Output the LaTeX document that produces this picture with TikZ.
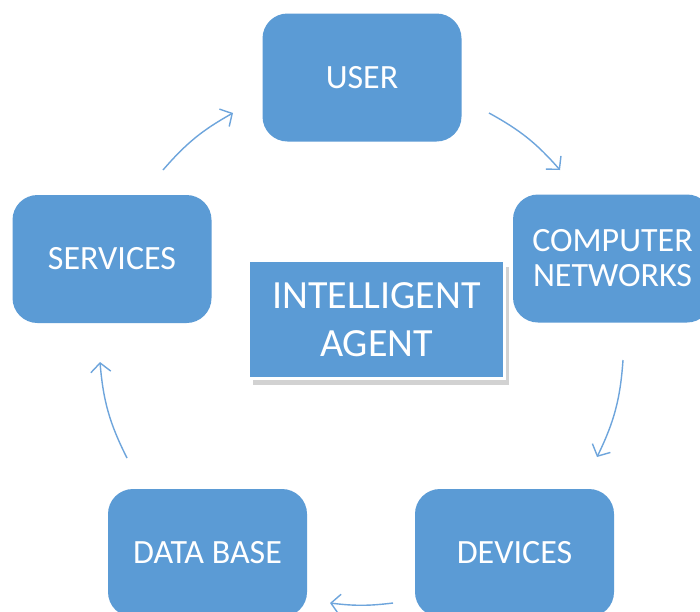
\documentclass[tikz,border=0pt]{standalone}
\usepackage{fontspec}
\setmainfont{Carlito}
\usetikzlibrary{arrows.meta, shadows}

\definecolor{boxblue}{RGB}{91,155,213}
\definecolor{lineblue}{RGB}{110,165,220}

\tikzset{
	stage/.style={rounded corners=25pt, fill=boxblue, text=white, align=center,
		minimum width=199pt, minimum height=128pt, font=\fontsize{34}{35}\selectfont},
	agent/.style={fill=boxblue, draw=white, line width=3pt, text=white, align=center,
		minimum width=256pt, minimum height=118pt, font=\fontsize{40}{48}\selectfont,
		drop shadow={shadow xshift=4pt, shadow yshift=-6pt, fill=black!35}},
	cycle/.style={draw=lineblue, line width=1.4pt, -{Straight Barb[length=9pt,width=20pt]}}
}

\begin{document}
\begin{tikzpicture}[x=1pt, y=-1pt]
		\useasboundingbox (0,0) rectangle (700,611);
		\clip (0,0) rectangle (700,611);
		\fill[white] (0,0) rectangle (700,611);
		
		\node[stage] (user) at (362,77.5) {USER};
		\node[stage] (network) at (612.5,258.5) {COMPUTER\\NETWORKS};
		\node[stage] (devices) at (514.5,553) {DEVICES};
		\node[stage] (database) at (207.5,553) {DATA BASE};
		\node[stage] (services) at (112,259) {SERVICES};
		
		\node[agent] (agent) at (376.5,319.5) {INTELLIGENT\\AGENT};
		
		% ends of the arrows round the ring
		\coordinate (s1) at (163,170);
		\coordinate (e1) at (233,113);
		\coordinate (s2) at (489,113);
		\coordinate (e2) at (560,170);
		\coordinate (s3) at (623,360);
		\coordinate (e3) at (597,457);
		\coordinate (s4) at (393,603);
		\coordinate (e4) at (330,603);
		\coordinate (s5) at (127,458);
		\coordinate (e5) at (100,362);
		
		\draw[cycle] (s1) to[bend left=10] (e1);
		\draw[cycle] (s2) to[bend left=10] (e2);
		\draw[cycle] (s3) to[bend left=11] (e3);
		\draw[cycle] (s4) to[bend left=7] (e4);
		\draw[cycle] (s5) to[bend left=11] (e5);
	\end{tikzpicture}
\end{document}
